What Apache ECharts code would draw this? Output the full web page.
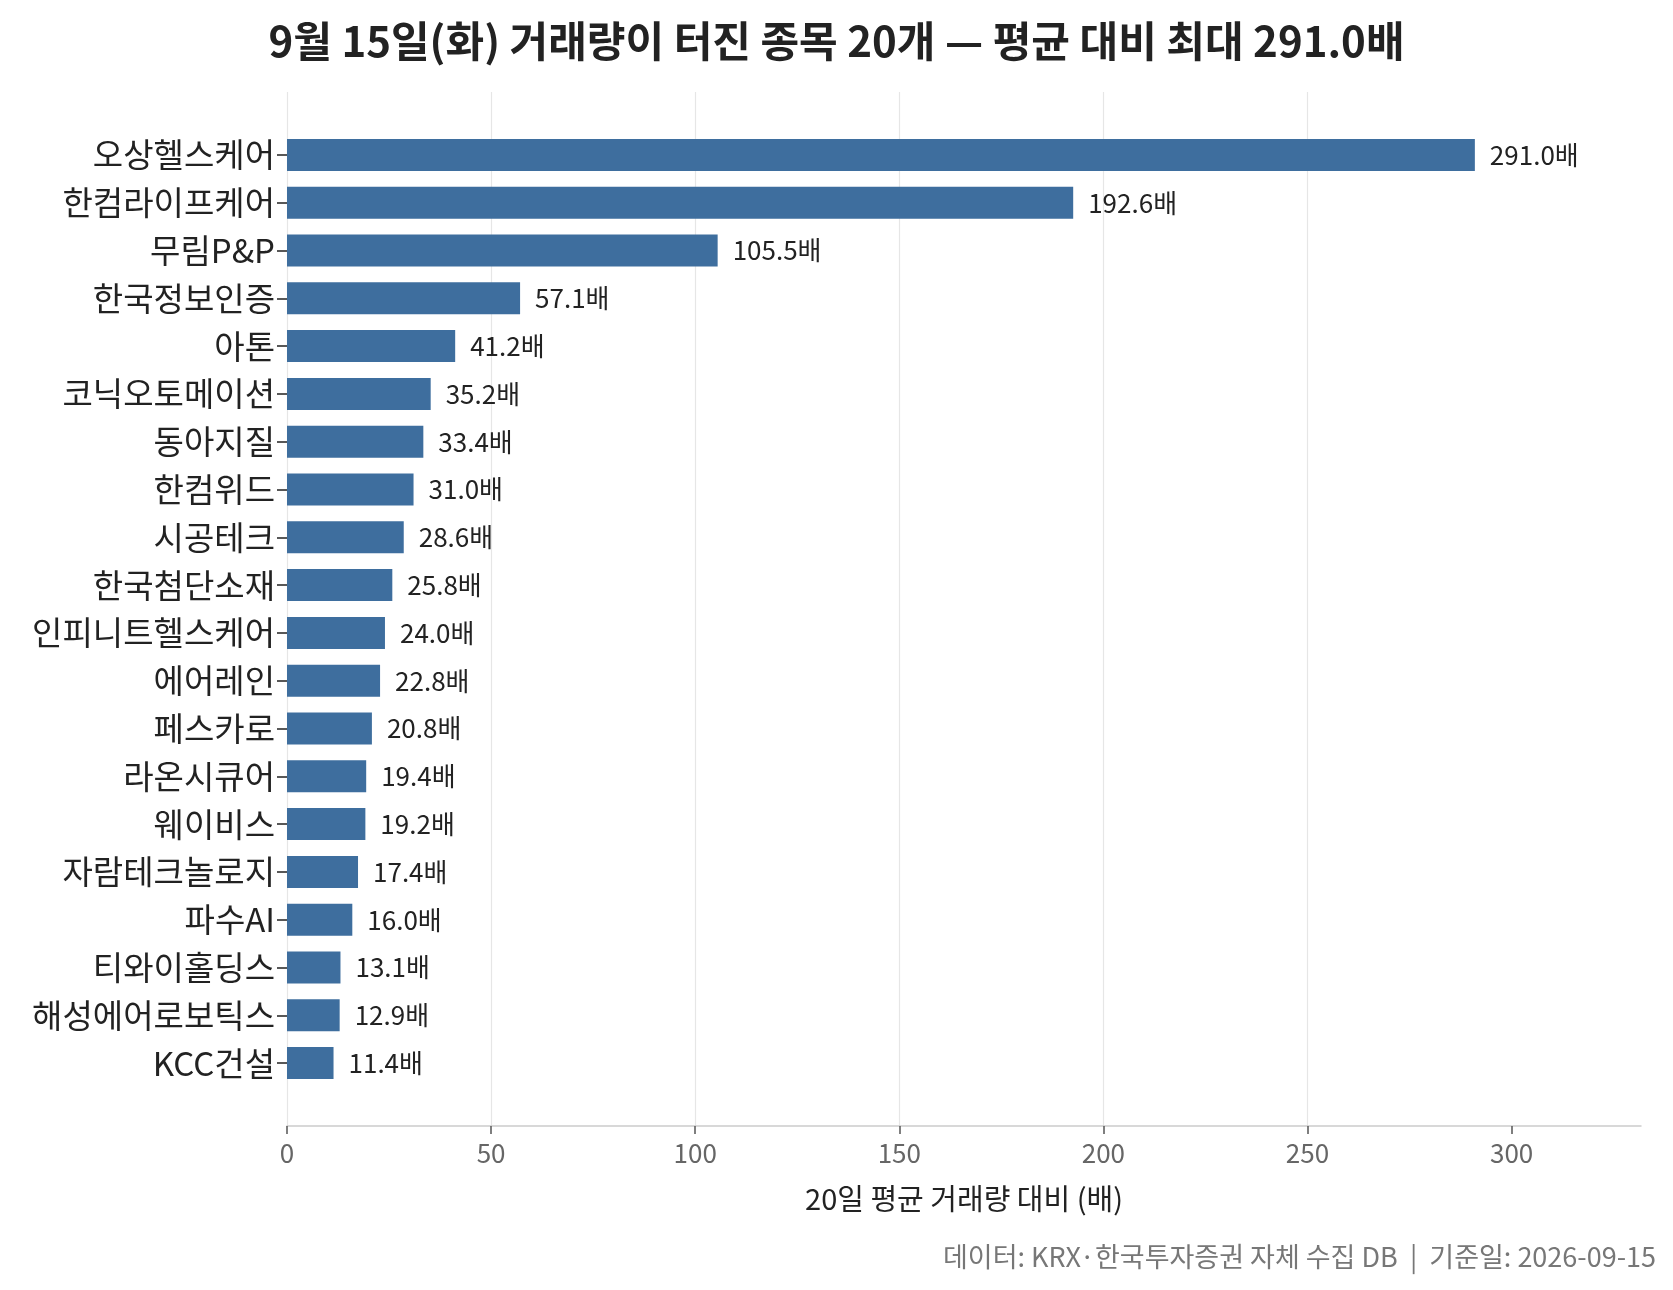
<!DOCTYPE html>
<html><head><meta charset="utf-8">
<script src="https://cdn.jsdelivr.net/npm/echarts@6/dist/echarts.min.js"></script>
<style>html,body{margin:0;padding:0;background:#fff}#c{width:1673px;height:1290px}</style>
</head><body><div id="c"></div>
<script>
const categories = ['오상헬스케어','한컴라이프케어','무림P&P','한국정보인증','아톤','코닉오토메이션','동아지질','한컴위드','시공테크','한국첨단소재','인피니트헬스케어','에어레인','페스카로','라온시큐어','웨이비스','자람테크놀로지','파수AI','티와이홀딩스','해성에어로보틱스','KCC건설'];
const values = [291.0,192.6,105.5,57.1,41.2,35.2,33.4,31.0,28.6,25.8,24.0,22.8,20.8,19.4,19.2,17.4,16.0,13.1,12.9,11.4];
const xTicks = [0,50,100,150,200,250,300];
const xMax = 331.7;
const titleText = '9월 15일(화) 거래량이 터진 종목 20개 — 평균 대비 최대 291.0배';
const xName = '20일 평균 거래량 대비 (배)';
const footer = '데이터: KRX·한국투자증권 자체 수집 DB  |  기준일: 2026-09-15';

const FONT = '"Noto Sans CJK KR", "Noto Sans", sans-serif';
const chart = echarts.init(document.getElementById('c'), null, {renderer:'canvas'});
chart.setOption({
  backgroundColor:'#fff',
  textStyle:{fontFamily:FONT},
  title:[
    {text:titleText, left:'center', top:15, textStyle:{fontFamily:FONT, fontSize:42, fontWeight:'bold', color:'#222'}},
    {text:footer, right:12, bottom:15, textStyle:{fontFamily:FONT, fontSize:27, fontWeight:'normal', color:'#777'}}
  ],
  grid:[
    {left:287, right:32, top:92, bottom:164},
    {left:287, right:32, top:131, bottom:203}
  ],
  xAxis:[
    {type:'value', gridIndex:0, min:0, max:xMax, interval:50,
     name:xName, nameLocation:'middle', nameGap:58,
     nameTextStyle:{fontFamily:FONT, fontSize:29, color:'#222'},
     axisLine:{show:true, lineStyle:{color:'#cccccc', width:1.5}},
     axisTick:{show:true, length:8, lineStyle:{color:'#555', width:1.5}, customValues:xTicks},
     axisLabel:{show:true, margin:14, fontFamily:FONT, fontSize:26, color:'#666', customValues:xTicks},
     splitLine:{show:true, showMaxLine:false, lineStyle:{color:'#e6e6e6', width:1.2}}
    },
    {type:'value', gridIndex:1, min:0, max:xMax, show:false, splitLine:{show:false}}
  ],
  yAxis:[
    {type:'value', gridIndex:0, show:false, splitLine:{show:false}},
    {type:'category', gridIndex:1, data:categories, inverse:true,
     axisLine:{show:false},
     axisTick:{show:true, alignWithLabel:true, length:10, lineStyle:{color:'#222', width:1.5}},
     axisLabel:{margin:12, fontFamily:FONT, fontSize:33, color:'#222'},
     splitLine:{show:false}
    }
  ],
  series:[{
    type:'bar', xAxisIndex:1, yAxisIndex:1, data:values, barWidth:32,
    itemStyle:{color:'#3e6e9e'},
    label:{show:true, position:'right', distance:15, fontFamily:FONT, fontSize:26, color:'#222',
      formatter:p=>p.value.toFixed(1)+'배'},
    animation:false
  }],
  animation:false
});
</script></body></html>
